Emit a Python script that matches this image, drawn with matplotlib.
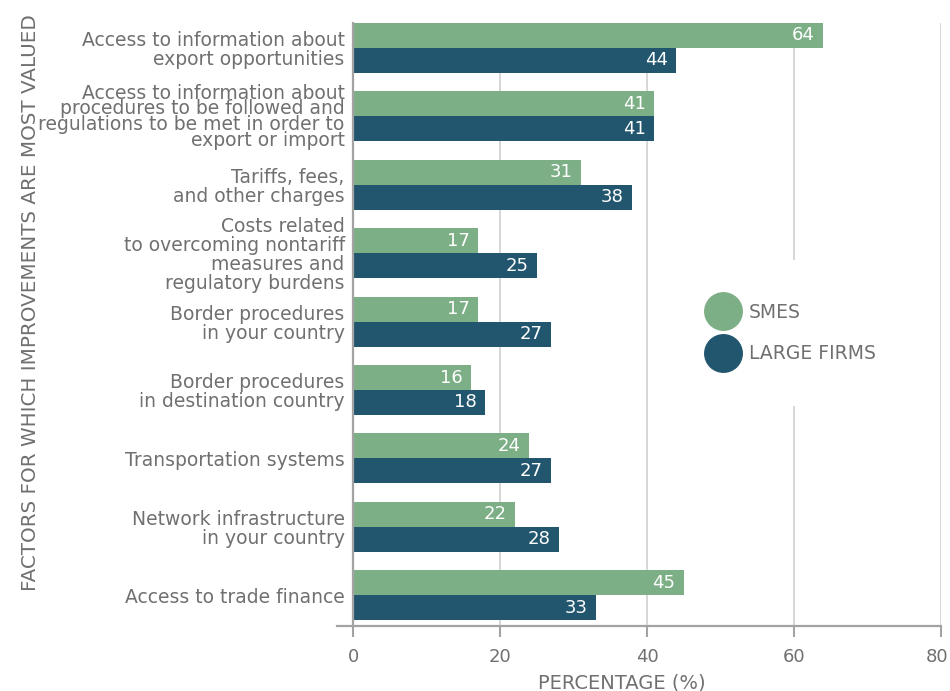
import numpy as np
import matplotlib
matplotlib.use("Agg")
import matplotlib.pyplot as plt
import matplotlib.transforms as mtransforms
from matplotlib.lines import Line2D

# data
factors = [
    "Access to information about\nexport opportunities",
    "Access to information about\nprocedures to be followed and\nregulations to be met in order to\nexport or import",
    "Tariffs, fees,\nand other charges",
    "Costs related\nto overcoming nontariff\nmeasures and\nregulatory burdens",
    "Border procedures\nin your country",
    "Border procedures\nin destination country",
    "Transportation systems",
    "Network infrastructure\nin your country",
    "Access to trade finance",
]
smes = [64, 41, 31, 17, 17, 16, 24, 22, 45]
large = [44, 41, 38, 25, 27, 18, 27, 28, 33]
series_names = ["SMES", "LARGE FIRMS"]
xticks = [0, 20, 40, 60, 80]

green = "#7daf87"
navy = "#22566e"
gray = "#707070"
axgray = "#a3a3a3"
gridgray = "#d3d3d3"

plt.rcParams['font.family'] = ['DejaVu Sans']

fig = plt.figure(figsize=(9.5, 6.91), dpi=100)
ax = fig.add_axes([0.3716, 0.0941, 0.9905 - 0.3716, 0.9667 - 0.0941])

y = np.arange(len(factors))
h = 0.365
b1 = ax.barh(y - h / 2, smes, height=h, color=green, zorder=2)
b2 = ax.barh(y + h / 2, large, height=h, color=navy, zorder=2)

for bars, vals in [(b1, smes), (b2, large)]:
    for r, v in zip(bars, vals):
        ax.annotate(str(v), (r.get_width(), r.get_y() + r.get_height() / 2),
                    xytext=(-6, 0), textcoords="offset points",
                    ha="right", va="center", color="white", fontsize=13, zorder=3)

ax.set_xlim(0, 80)
ax.set_ylim(len(factors) - 1 + 0.45, -h)
ax.set_xticks(xticks)
ax.set_yticks(y)
ax.set_yticklabels(factors, fontsize=13.5, color=gray, linespacing=1.0)
ax.get_yticklabels()[1].set_linespacing(0.78)
ax.tick_params(axis="y", length=0, pad=6)
ax.tick_params(axis="x", length=8, width=1.5, color=axgray, labelcolor=gray,
               labelsize=13, pad=8)

# last tick label sits right at the figure edge, nudge it in a bit
lab = ax.get_xticklabels()[-1]
lab.set_transform(lab.get_transform() + mtransforms.ScaledTranslation(-4 / 100, 0, fig.dpi_scale_trans))

ax.grid(axis="x", color=gridgray, linewidth=1.3, zorder=0)
ax.set_axisbelow(True)
for s in ["top", "right"]:
    ax.spines[s].set_visible(False)
for s in ["left", "bottom"]:
    ax.spines[s].set_color(axgray)
    ax.spines[s].set_linewidth(1.6)

# bottom axis line runs a little past the left spine
ax.add_line(Line2D([-0.027, 0], [0, 0], transform=ax.transAxes, color=axgray,
                   linewidth=1.6, clip_on=False))

fig.text(31 / 950, 1 - 303 / 691, "FACTORS FOR WHICH IMPROVEMENTS ARE MOST VALUED",
         rotation=90, ha="center", va="center", color=gray, fontsize=14.3)
fig.text(622 / 950, 1 - 683 / 691, "PERCENTAGE (%)", ha="center", va="center",
         color=gray, fontsize=14)

handles = [Line2D([], [], marker="o", linestyle="none", markersize=27,
                  markerfacecolor=c, markeredgecolor=c) for c in [green, navy]]
leg = ax.legend(handles, series_names, loc="center", bbox_to_anchor=(790 / 950, 1 - 333 / 691),
                bbox_transform=fig.transFigure, frameon=True, facecolor="white",
                edgecolor="none", framealpha=1, fontsize=13.5, labelspacing=1.2,
                handletextpad=0.35, borderpad=2.3)
for t in leg.get_texts():
    t.set_color(gray)

fig.savefig("out.png", dpi=100)
